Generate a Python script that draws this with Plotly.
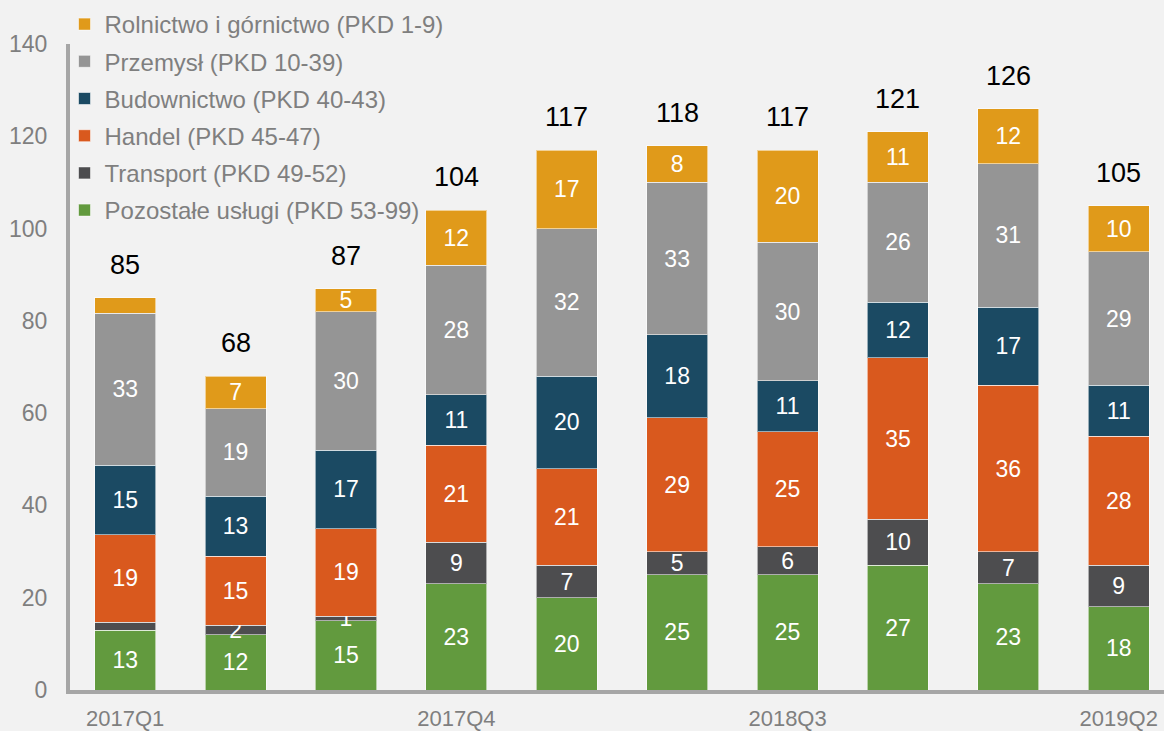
import plotly.graph_objects as go

categories = ["2017Q1", "2017Q2", "2017Q3", "2017Q4", "2018Q1", "2018Q2",
              "2018Q3", "2018Q4", "2019Q1", "2019Q2"]

pozostale = [13, 12, 15, 23, 20, 25, 25, 27, 23, 18]
transport = [1.7, 2, 1, 9, 7, 5, 6, 10, 7, 9]
handel = [19, 15, 19, 21, 21, 29, 25, 35, 36, 28]
budownictwo = [15, 13, 17, 11, 20, 18, 11, 12, 17, 11]
przemysl = [33, 19, 30, 28, 32, 33, 30, 26, 31, 29]
rolnictwo = [3.3, 7, 5, 12, 17, 8, 20, 11, 12, 10]
totals = [85, 68, 87, 104, 117, 118, 117, 121, 126, 105]

# labels shown in the bars ("" = no label)
transport_labels = ["", "2", "1", "9", "7", "5", "6", "10", "7", "9"]
rolnictwo_labels = ["", "7", "5", "12", "17", "8", "20", "11", "12", "10"]

series = [
    ("Pozostałe usługi (PKD 53-99)", pozostale, [str(v) for v in pozostale], "#629A3E"),
    ("Transport (PKD 49-52)", transport, transport_labels, "#4D4D4F"),
    ("Handel (PKD 45-47)", handel, [str(v) for v in handel], "#D9591E"),
    ("Budownictwo (PKD 40-43)", budownictwo, [str(v) for v in budownictwo], "#1B4A63"),
    ("Przemysł (PKD 10-39)", przemysl, [str(v) for v in przemysl], "#959595"),
    ("Rolnictwo i górnictwo (PKD 1-9)", rolnictwo, rolnictwo_labels, "#E09A1A"),
]

FONT = "Liberation Sans, Arial, sans-serif"

fig = go.Figure()
n = len(series)
for i, (name, vals, labels, color) in enumerate(series):
    fig.add_trace(go.Bar(
        x=categories, y=vals, name=name,
        text=labels, texttemplate="%{text}",
        textposition="inside", insidetextanchor="middle", textangle=0,
        textfont=dict(color="white", size=23, family=FONT),
        constraintext="none",
        marker=dict(color=color, line=dict(color="rgba(255,255,255,0.55)", width=1)),
        legendgroup=f"g{i}", legendrank=n - i,
        hoverinfo="skip",
    ))

for c, t in zip(categories, totals):
    fig.add_annotation(x=c, y=t, text=str(t), showarrow=False,
                       yanchor="bottom", yshift=16,
                       font=dict(color="black", size=27, family=FONT))

fig.update_layout(
    width=1164, height=731,
    barmode="stack", bargap=0.447,
    paper_bgcolor="#F2F2F2", plot_bgcolor="#F2F2F2",
    margin=dict(l=70, r=0, t=44, b=41, autoexpand=False),
    font=dict(family=FONT, color="#7F7F7F"),
    uniformtext=dict(minsize=23, mode="show"),
    showlegend=True,
    legend=dict(
        x=-0.005, y=1.065, xanchor="left", yanchor="top",
        traceorder="grouped", tracegroupgap=3,
        bgcolor="rgba(0,0,0,0)",
        font=dict(size=24, color="#7F7F7F", family=FONT),
        itemwidth=30,
    ),
    xaxis=dict(
        range=[-0.5, 9.41], automargin=False,
        tickmode="array", tickvals=categories[::3], ticktext=categories[::3],
        showline=True, linecolor="#A6A6A6", linewidth=4,
        ticks="", showgrid=False, zeroline=False,
        tickfont=dict(size=22, color="#7F7F7F"),
        ticklabelstandoff=6,
    ),
    yaxis=dict(
        range=[0, 140], dtick=20, automargin=False,
        showline=True, linecolor="#A6A6A6", linewidth=4,
        ticks="", showgrid=False, zeroline=False,
        tickfont=dict(size=23, color="#7F7F7F"),
        ticklabelstandoff=14,
    ),
)

fig.write_html("out.html", config={"displayModeBar": False},
               post_script="document.body.style.margin='0';document.body.style.padding='0';")
